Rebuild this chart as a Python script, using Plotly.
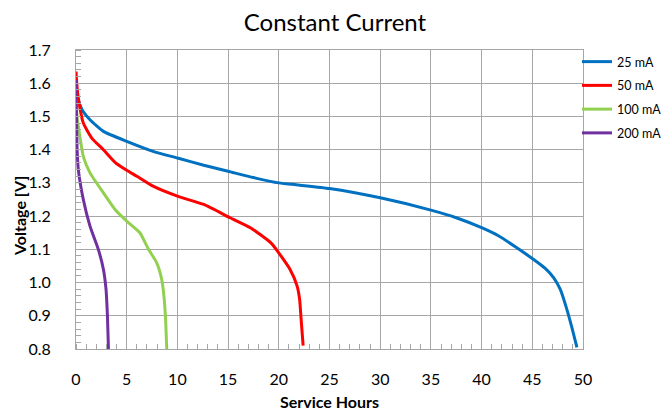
import plotly.graph_objects as go

# Service hours / voltage readings per discharge current
h_25 = [0.13, 0.6, 1.38, 2.7, 5, 7.6, 10, 12.6, 15, 17.5, 20, 22.1, 25, 30, 35, 37.5, 40, 41.7, 43.4, 45.1, 46.3, 47.1, 47.75, 48.4, 48.9, 49.4]
v_25 = [1.557, 1.52, 1.49, 1.455, 1.425, 1.395, 1.375, 1.353, 1.335, 1.316, 1.300, 1.293, 1.283, 1.255, 1.218, 1.195, 1.165, 1.14, 1.106, 1.07, 1.042, 1.015, 0.98, 0.92, 0.865, 0.805]

h_50 = [0.0, 0.1, 0.23, 0.72, 1.55, 2.7, 3.85, 5, 6.0, 7.6, 10, 12.6, 15.2, 17.2, 19.2, 20.1, 21.1, 21.8, 22.05, 22.2, 22.4]
v_50 = [1.635, 1.59, 1.555, 1.48, 1.435, 1.40, 1.362, 1.338, 1.32, 1.29, 1.26, 1.235, 1.195, 1.165, 1.12, 1.085, 1.04, 0.99, 0.95, 0.89, 0.81]

h_100 = [0.0, 0.1, 0.23, 0.72, 1.38, 2.7, 3.85, 5, 6.3, 7.15, 7.95, 8.45, 8.7, 8.85, 8.95]
v_100 = [1.55, 1.50, 1.47, 1.38, 1.33, 1.27, 1.22, 1.185, 1.15, 1.10, 1.06, 1.01, 0.95, 0.88, 0.80]

h_200 = [0.0, 0.05, 0.1, 0.23, 0.72, 1.38, 2.2, 2.7, 2.96, 3.1, 3.2]
v_200 = [1.61, 1.50, 1.41, 1.34, 1.25, 1.17, 1.10, 1.04, 0.98, 0.90, 0.80]

series_names = ["25 mA", "50 mA", "100 mA", "200 mA"]
series_colors = ["#0070C0", "#FF0000", "#92D050", "#7030A0"]

x_ticks = [0, 5, 10, 15, 20, 25, 30, 35, 40, 45, 50]
y_ticks = [0.8, 0.9, 1.0, 1.1, 1.2, 1.3, 1.4, 1.5, 1.6, 1.7]
y_tick_text = ["0.8", "0.9", "1.0", "1.1", "1.2", "1.3", "1.4", "1.5", "1.6", "1.7"]

FONT = "Lato, 'Open Sans', sans-serif"
GRID = "#A6A6A6"

# page has an 8px body margin, so the figure is drawn 8px smaller and offset
OFF = 8
W, H = 671 - OFF, 411 - OFF
ML, MR, MT, MB = 76 - OFF, 0, 50 - OFF, 411 - 349
plot_right = 583 - OFF
paper_w = W - ML - MR
plot_h = H - MT - MB
dom_end = (plot_right - ML) / paper_w

fig = go.Figure()
for xs, ys, name, color in zip([h_25, h_50, h_100, h_200], [v_25, v_50, v_100, v_200], series_names, series_colors):
    fig.add_trace(go.Scatter(x=xs, y=ys, mode="lines", name=name, legendgroup=name,
                             line=dict(color=color, width=3, shape="spline", smoothing=0.5)))

fig.update_layout(
    width=W, height=H,
    margin=dict(l=ML, r=MR, t=MT, b=MB, autoexpand=False),
    paper_bgcolor="white", plot_bgcolor="white",
    font=dict(family=FONT, color="#000000", size=14),
    title=dict(text="Constant Current", x=(335 - OFF) / W, xref="container", xanchor="center",
               yref="container", y=1 - (22.5 - OFF) / H, yanchor="middle", font=dict(size=24, family=FONT)),
    legend=dict(x=(577 - OFF - ML) / paper_w, xanchor="left", y=1 + 3 / plot_h, yanchor="top",
                font=dict(size=12.5, family=FONT), itemwidth=30, tracegroupgap=4.5,
                bgcolor="rgba(0,0,0,0)", borderwidth=0),
    showlegend=True,
    annotations=[dict(text="<b>Voltage [V]</b>", textangle=-90, showarrow=False,
                      xref="paper", yref="paper",
                      x=(19 - 76) / paper_w, xanchor="center",
                      y=1 - (216 - 50) / plot_h, yanchor="middle",
                      font=dict(size=16, family=FONT))],
)
fig.update_xaxes(domain=[0, dom_end], range=[0, 50], tickvals=x_ticks, showgrid=True, gridcolor=GRID, gridwidth=1,
                 showline=True, linecolor=GRID, linewidth=1, mirror=True, zeroline=False,
                 ticks="", tickfont=dict(size=16), ticklabelstandoff=16, automargin=False,
                 minor=dict(dtick=1, ticks="inside", ticklen=5, tickcolor=GRID, showgrid=False),
                 title=dict(text="<b>Service Hours</b>", font=dict(size=16), standoff=12))
fig.update_yaxes(range=[0.8, 1.7], tickvals=y_ticks, ticktext=y_tick_text, showgrid=True, gridcolor=GRID, gridwidth=1,
                 showline=True, linecolor=GRID, linewidth=1, mirror=True, zeroline=False,
                 ticks="", tickfont=dict(size=16), ticklabelstandoff=21, automargin=False,
                 minor=dict(dtick=0.02, tick0=0.8, ticks="inside", ticklen=5, tickcolor=GRID, showgrid=False))

fig.write_html("out.html")
